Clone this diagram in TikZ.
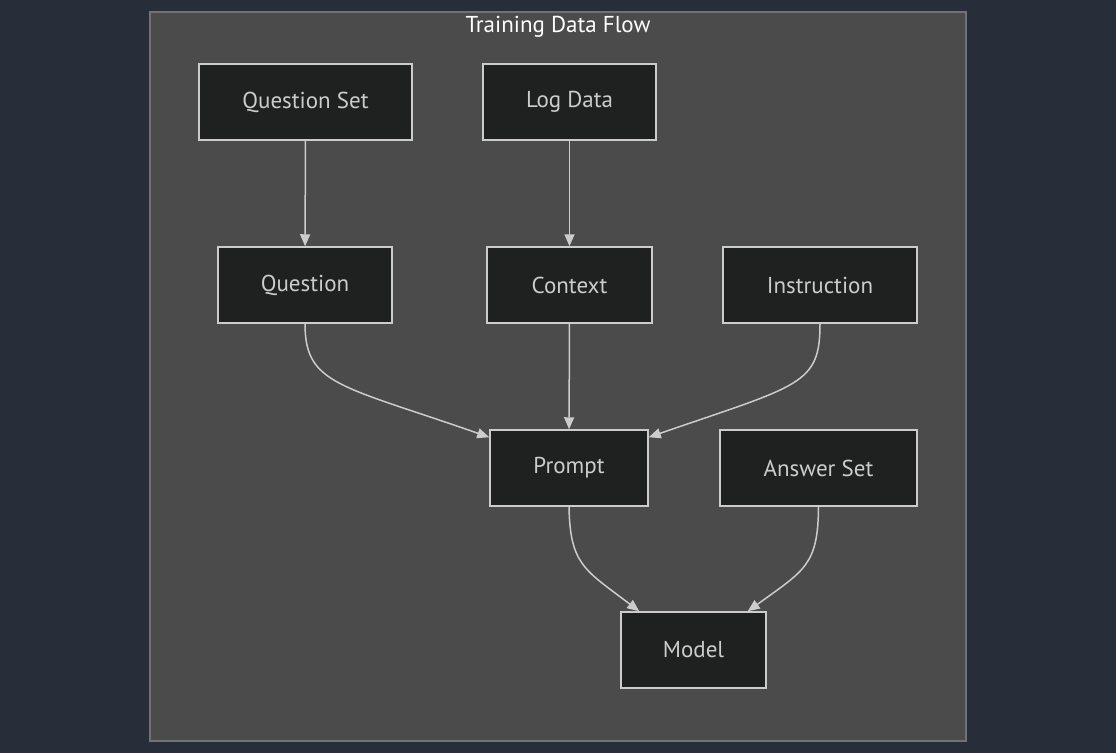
\documentclass[tikz,border=0pt]{standalone}
\usepackage{fontspec}
\setmainfont{PT Sans}
\usepackage{tikz}
\usetikzlibrary{arrows.meta}
\definecolor{pagebg}{HTML}{282D3A}
\definecolor{clusterbg}{HTML}{4A4B4A}
\definecolor{clusterline}{HTML}{707373}
\definecolor{boxbg}{HTML}{1F2020}
\definecolor{boxline}{HTML}{CCCCCC}

\begin{document}
\begin{tikzpicture}[x=1pt,y=-1pt,line width=1.5pt,-{Triangle[length=12pt,width=10pt]}]
            \tikzstyle{box}=[rectangle,draw=boxline,fill=boxbg,text=boxline,minimum height=76pt,inner sep=0pt,font=\fontsize{23}{27}\selectfont]
            \tikzstyle{link}=[draw=boxline,line width=1.5pt]
            \fill[pagebg] (0,0) rectangle (1116,753);
            \useasboundingbox (0,0) rectangle (1116,753);
            \filldraw[fill=clusterbg,draw=clusterline] (150,12) rectangle (966,741);
            \node[text=white,font=\fontsize{23}{27}\selectfont] (title) at (558,27) {Training Data Flow};

            \foreach \name/\x/\y/\w/\txt in {qset/305.5/102/213/Question Set, logs/569.5/102/173/Log Data,
                    question/305/285/174/Question, context/569.5/285/165/Context, instruction/820/285/194/Instruction,
                    prompt/569/468/158/Prompt, aset/818.5/468/197/Answer Set, model/693.5/650/145/Model}
                \node[box,minimum width=\w pt] (\name) at (\x,\y) {\txt};

            \foreach \from/\to in {qset/question, logs/context, context/prompt}
                \draw[link] (\from) -- (\to);

            \draw[link] (question.south) .. controls (305,385) and (340,385) .. ([yshift=-8pt]prompt.north west);
            \draw[link] (instruction.south) .. controls (820,385) and (800,385) .. ([yshift=-8pt]prompt.north east);
            \draw[link] (prompt.south) .. controls (570,565) and (585,570) .. ([xshift=19pt]model.north west);
            \draw[link] (aset.south) .. controls (818,565) and (805,570) .. ([xshift=-19pt]model.north east);

        \end{tikzpicture}
\end{document}
